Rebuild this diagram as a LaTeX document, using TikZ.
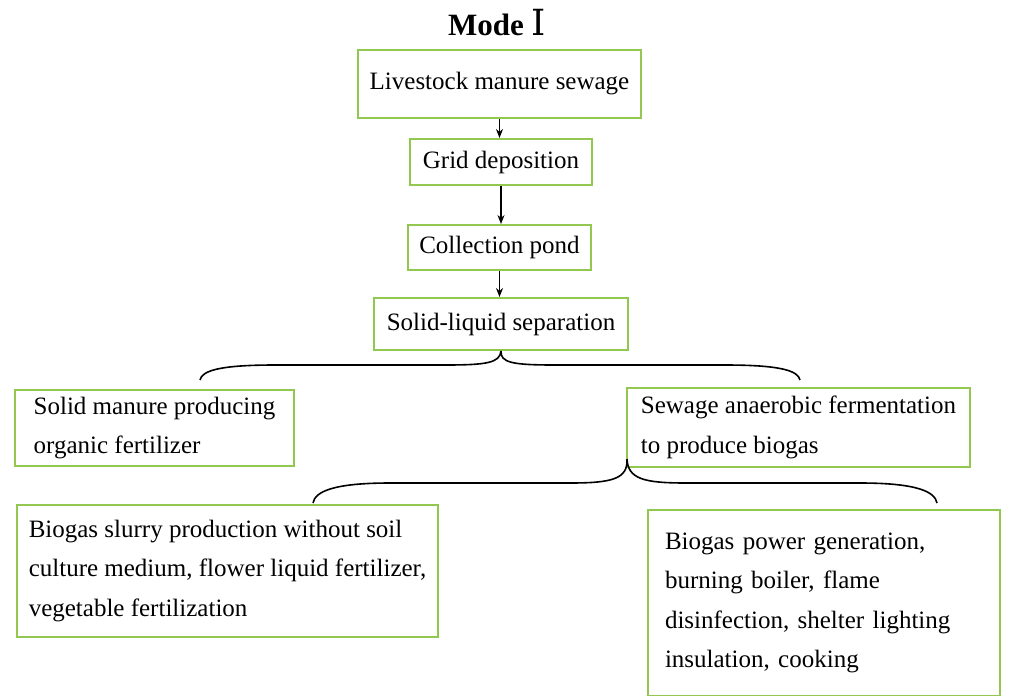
\documentclass[tikz,border=0pt]{standalone}
\usepackage{fontspec}
\setmainfont{Liberation Serif}
\newfontfamily\numfont{DejaVu Serif}
\usepackage{xcolor}
\usepackage{tikz}
\usetikzlibrary{calc,arrows.meta}

\definecolor{boxgreen}{RGB}{146,200,80}
\tikzset{
  box/.style={draw=boxgreen, line width=1pt, inner sep=0pt,
              font=\fontsize{12.5}{19.8}\selectfont},
  multi/.style={box, align=left},
  flow/.style={-{Stealth[length=4.5pt,width=3.5pt]}, line width=0.7pt},
  brace/.style={line width=0.8pt}
}

\begin{document}
\begin{tikzpicture}[x=0.5pt,y=-0.5pt]
\useasboundingbox (0,0) rectangle (1012,696);

\node[font=\fontsize{15.5}{18}\selectfont\bfseries] (title) at (497,23)
     {Mode {\numfont\mdseries\fontsize{18}{18}\selectfont Ⅰ}};

\node[box, minimum width=141.5pt, minimum height=34pt] (manure) at (499.5,84)
     {Livestock manure sewage};
\node[box, minimum width=91pt, minimum height=23pt] (grid) at (501,162)
     {Grid deposition};
\node[box, minimum width=91.5pt, minimum height=22.5pt] (pond) at (499.5,247.5)
     {Collection pond};
\node[box, minimum width=127pt, minimum height=26pt] (sep) at (501,324)
     {Solid-liquid separation};

\node[multi, minimum width=139.5pt, minimum height=38pt] (solid) at (154.5,428)
     {Solid manure producing\\organic fertilizer};
\node[multi, minimum width=171.5pt, minimum height=39.5pt] (sewage) at (798.5,427.5)
     {Sewage anaerobic fermentation\\to produce biogas};
\node[multi, minimum width=210.5pt, minimum height=66pt] (slurry) at (227.5,571)
     {Biogas slurry production without soil\\culture medium, flower liquid fertilizer,\\vegetable fertilization};
\node[multi, text width=159pt, minimum width=176pt, minimum height=93pt] (power) at (824,603)
     {Biogas power generation,\\burning boiler, flame\\disinfection, shelter lighting\\insulation, cooking};

% arrows down the chain
\draw[flow] (manure.south) -- (manure.south |- grid.north);
\draw[flow] (grid.south) -- (grid.south |- pond.north);
\draw[flow] (pond.south) -- (pond.south |- sep.north);

% first brace
\coordinate (bl1) at (200,380);
\coordinate (br1) at (800,380);
\draw[brace] (sep.south) .. controls (500,363) and (486,365) .. (445,365)
             -- (275,365) .. controls (218,365) and (202,371) .. (bl1);
\draw[brace] (sep.south) .. controls (500,363) and (514,365) .. (555,365)
             -- (725,365) .. controls (782,365) and (798,371) .. (br1);

% second brace
\coordinate (tip2) at ($(sewage.south west)+(1,-9)$);
\coordinate (bl2) at (313,503);
\coordinate (br2) at (937,503);
\draw[brace] (tip2) .. controls (628,479) and (612,483) .. (570,483)
             -- (390,483) .. controls (332,483) and (315,492) .. (bl2);
\draw[brace] (tip2) .. controls (628,479) and (644,483) .. (686,483)
             -- (860,483) .. controls (918,483) and (935,492) .. (br2);
\end{tikzpicture}
\end{document}
